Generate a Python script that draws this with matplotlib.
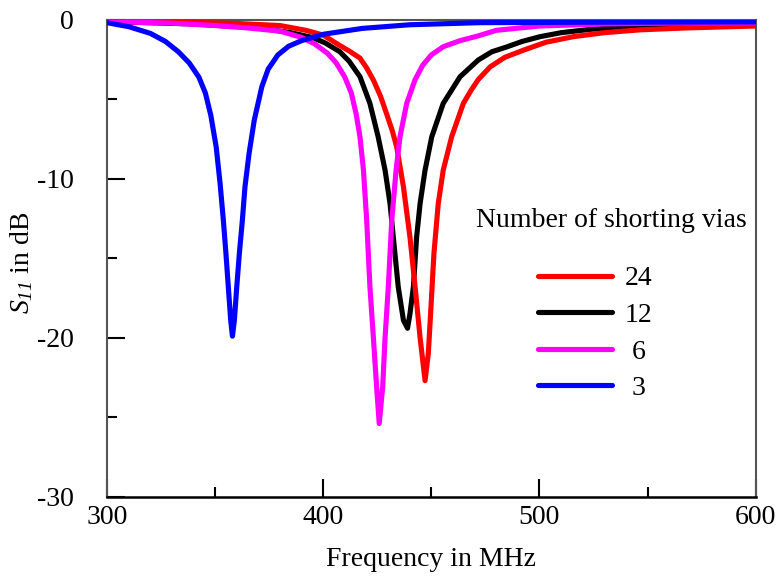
import numpy as np
import matplotlib
matplotlib.use("Agg")
import matplotlib.pyplot as plt
from matplotlib.ticker import MultipleLocator

plt.rcParams['font.family'] = ['Liberation Serif', 'DejaVu Serif']
plt.rcParams['mathtext.fontset'] = 'custom'
plt.rcParams['mathtext.rm'] = 'Liberation Serif:italic'
plt.rcParams['mathtext.it'] = 'Liberation Serif:italic'
plt.rcParams['axes.unicode_minus'] = False

# S11 curves, one per number of shorting vias
freq_3 = [300, 310, 320, 327, 333, 338, 342.5, 345.5, 348, 350.5, 352.3, 353.8, 355.0, 356.1,
          357.2, 358.0, 358.9, 360.0, 361.2, 362.6, 363.8, 365.7, 368.1, 371.6, 374.5, 379,
          384, 390, 400, 418, 440, 472, 520, 600]
s11_3 = [-0.17, -0.42, -0.84, -1.35, -2.0, -2.7, -3.6, -4.6, -6.0, -8.0, -10.3, -12.6, -14.7, -16.8,
         -18.9, -19.9, -18.9, -16.8, -14.7, -12.6, -10.5, -8.4, -6.3, -4.2, -3.1, -2.2,
         -1.65, -1.3, -0.9, -0.53, -0.3, -0.17, -0.14, -0.12]

freq_6 = [300, 330, 350, 365, 380, 390, 396, 402, 406, 410, 413, 415.2, 417, 418.6, 420.1,
          421.6, 423.2, 424.7, 425.9, 427.5, 428.6, 430.1, 431.7, 433.7, 435.5, 438.6, 442.5,
          446, 450, 455.5, 463.3, 471.7, 480, 500, 530, 560, 600]
s11_6 = [-0.1, -0.2, -0.35, -0.5, -0.7, -1.1, -1.5, -2.1, -2.7, -3.6, -4.6, -5.9, -7.35, -9.45, -12.6,
         -16.8, -20.0, -23.1, -25.4, -23.1, -20.0, -16.8, -12.6, -9.45, -7.35, -5.25, -3.75,
         -2.85, -2.2, -1.68, -1.3, -1.0, -0.65, -0.38, -0.25, -0.2, -0.17]

freq_12 = [300, 340, 370, 385, 395, 401, 407.7, 412, 417, 421.6, 425.4, 428.6, 430.9, 432.4,
           434.7, 437.1, 439.0, 440.1, 441.7, 443.2, 444.8, 447.1, 450.2, 455.5, 463.3, 471.7,
           478, 484.8, 492, 500.3, 510, 523.4, 546.5, 570, 600]
s11_12 = [-0.1, -0.25, -0.5, -0.8, -1.1, -1.45, -2.0, -2.6, -3.57, -5.25, -7.35, -9.45, -11.55, -13.65,
          -16.8, -18.9, -19.4, -18.5, -16.8, -13.65, -11.55, -9.45, -7.35, -5.25, -3.57, -2.52,
          -2.0, -1.7, -1.35, -1.05, -0.8, -0.59, -0.35, -0.25, -0.2]

freq_24 = [300, 330, 360, 380, 392, 400, 407, 412, 417, 420, 423.2, 426.5, 429.3, 432, 434,
           437.1, 440.1, 442.5, 444.8, 447.1, 448.6, 449.9, 451.2, 453.2, 455.5, 459.4, 464.8,
           468.5, 471.7, 477.2, 484, 492.6, 503, 515.7, 530, 546.5, 568, 600]
s11_24 = [-0.05, -0.12, -0.22, -0.35, -0.65, -0.95, -1.55, -1.95, -2.4, -3.0, -3.78, -4.8, -5.9, -7.0, -8.0,
          -10.5, -13.65, -16.8, -20.0, -22.7, -21.0, -17.9, -14.7, -11.55, -9.45, -7.35, -5.25,
          -4.4, -3.75, -2.95, -2.35, -1.9, -1.4, -1.05, -0.8, -0.62, -0.5, -0.38]

labels = ['24', '12', ' 6', ' 3']
colors = ['#ff0000', '#000000', '#ff00ff', '#0000ff']

fig = plt.figure(figsize=(7.79, 5.76), dpi=100)
ax = fig.add_axes([0.1374, 0.1377, 0.8326, 0.8276])

curves = [(freq_24, s11_24), (freq_12, s11_12), (freq_6, s11_6), (freq_3, s11_3)]
zorders = [3, 2, 4, 5]
handles = []
for (f, s), lab, c, z in zip(curves, labels, colors, zorders):
    h, = ax.plot(f, s, color=c, lw=3.7, label=lab, zorder=z,
                 solid_joinstyle='round', solid_capstyle='round')
    handles.append(h)

ax.set_xlim(300, 600)
ax.set_ylim(-30, 0)
ax.xaxis.set_major_locator(MultipleLocator(100))
ax.xaxis.set_minor_locator(MultipleLocator(50))
ax.yaxis.set_major_locator(MultipleLocator(10))
ax.yaxis.set_minor_locator(MultipleLocator(5))
ax.tick_params(which='major', direction='in', length=13, width=1.5, labelsize=20, pad=6)
ax.tick_params(which='minor', direction='in', length=7, width=1.5)
ax.tick_params(axis='y', which='major', pad=24)
ax.tick_params(top=False, right=False, which='both')

for side in ['top', 'right', 'left']:
    ax.spines[side].set_color('#555555')
    ax.spines[side].set_linewidth(1.5)
ax.spines['bottom'].set_color('black')
ax.spines['bottom'].set_linewidth(1.8)

ax.set_xlabel('Frequency in MHz', fontsize=20)
ax.set_ylabel(r'$S_{11}$ in dB', fontsize=20)
ax.xaxis.set_label_coords(0.5, -0.105)
ax.yaxis.set_label_coords(-0.111, 0.49)

ax.text(0.778, 0.58, 'Number of shorting vias', transform=ax.transAxes,
        ha='center', va='center', fontsize=20)
ax.legend(handles=handles, loc='upper left', bbox_to_anchor=(0.664, 0.484), frameon=False,
          fontsize=20, handlelength=2.66, handletextpad=0.47, labelspacing=0.4,
          borderpad=0, borderaxespad=0)

fig.savefig('out.png', dpi=100)
